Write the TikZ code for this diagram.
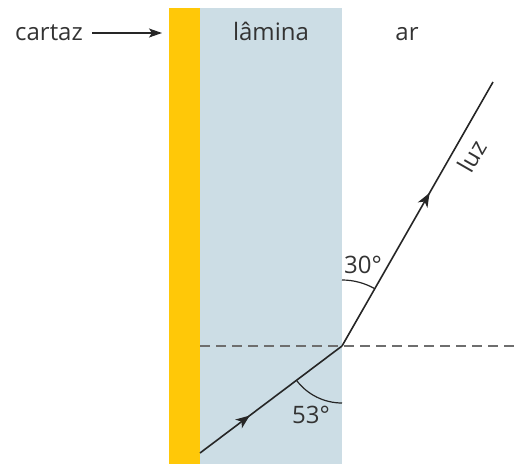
\documentclass[tikz,border=0pt]{standalone}
\usepackage{fontspec}
\setmainfont{Open Sans}
\usetikzlibrary{arrows.meta,decorations.markings,calc}
\definecolor{cartazyellow}{HTML}{FFC808}
\definecolor{laminablue}{HTML}{CCDDE5}
\definecolor{txtgray}{HTML}{333333}
\definecolor{dashgray}{HTML}{6E6E6E}
\begin{document}
\begin{tikzpicture}[x=1pt,y=-1pt,
  lbl/.style={font=\fontsize{24}{28}\selectfont, text=txtgray, inner sep=0pt},
  ray/.style={line width=1.6pt, draw=black!85},
  midarrow/.style={postaction={decorate}, decoration={markings, mark=at position #1 with {\arrow{Stealth[length=14pt,width=11pt,inset=4pt]}}}},
  anglearc/.style={line width=1.2pt, draw=black!85}]
\useasboundingbox (0,0) rectangle (514,464);
% plates
\fill[cartazyellow] (169,8) rectangle (200,464);
\fill[laminablue] (200,8) rectangle (342,464);
% points
\coordinate (P) at (342,346);
\coordinate (S) at (200,453);
\coordinate (E) at (493,82);
\coordinate (DL) at (200,346);
\coordinate (DR) at (514,346);
% normal dashed
\draw[dashgray, line width=1.8pt, dash pattern=on 10pt off 6pt] (DL) -- (DR);
% rays
\draw[ray, midarrow=0.35] (S) -- (P);
\draw[ray, midarrow=0.58] (P) -- (E);
% angle arcs
\draw[anglearc] ($(P)+(0,-66)$) arc[start angle=270, end angle=300, radius=66];
\draw[anglearc] ($(P)+(0,57)$) arc[start angle=90, end angle=143, radius=57];
% labels
\node[lbl, anchor=base] (a30) at (363,273) {30°};
\node[lbl, anchor=base] (a53) at (311,423) {53°};
\node[lbl, anchor=base] (cartaz) at (49,40) {cartaz};
\node[lbl, anchor=base] (lamina) at (271,40) {lâmina};
\node[lbl, anchor=base] (ar) at (407,40) {ar};
\node[lbl, rotate=60] (luz) at (472,156) {luz};
\coordinate (cartazTip) at (162,33);
\draw[line width=1.2pt, draw=black!85, -{Stealth[length=13pt,width=9pt,inset=3pt]}] (92,33) -- (cartazTip);
\end{tikzpicture}
\end{document}
